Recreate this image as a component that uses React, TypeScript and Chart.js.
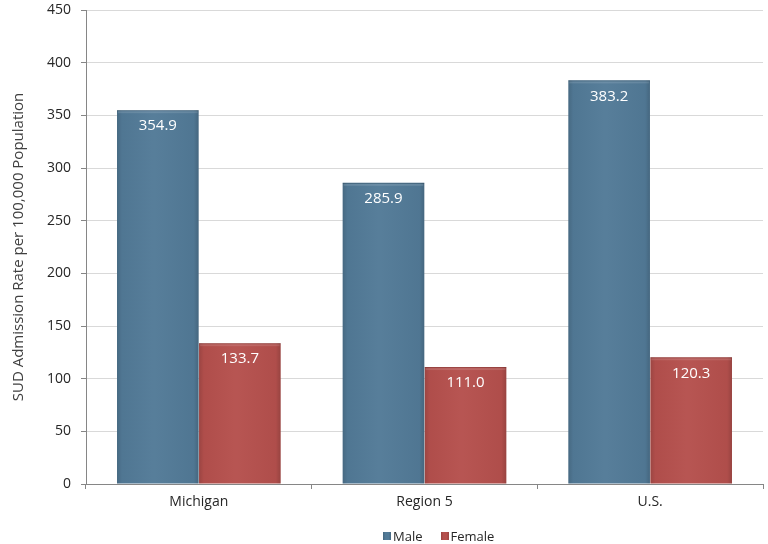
import React, { useEffect, useRef } from "react";
import { Chart, registerables } from "chart.js";

Chart.register(...registerables);

const categories = ["Michigan", "Region 5", "U.S."];
const maleValues = [354.9, 285.9, 383.2];
const femaleValues = [133.7, 111.0, 120.3];
const seriesNames = ["Male", "Female"];
const yTicks = [0, 50, 100, 150, 200, 250, 300, 350, 400, 450];
const yTitle = "SUD Admission Rate per 100,000 Population";

const MALE = "#527a97";
const FEMALE = "#b5504d";
const FONT = "'Open Sans', 'DejaVu Sans', sans-serif";

const barDecor = {
  id: "barDecor",
  afterDatasetsDraw(chart: any) {
    const ctx = chart.ctx;
    chart.data.datasets.forEach((ds: any, di: number) => {
      const meta = chart.getDatasetMeta(di);
      meta.data.forEach((el: any) => {
        const { x, y, base, width } = el.getProps(["x", "y", "base", "width"], true);
        const l = x - width / 2;
        const r = x + width / 2;
        const g = ctx.createLinearGradient(l, 0, r, 0);
        g.addColorStop(0, "rgba(0,0,0,0.14)");
        g.addColorStop(0.06, "rgba(0,0,0,0.03)");
        g.addColorStop(0.45, "rgba(255,255,255,0.03)");
        g.addColorStop(0.94, "rgba(0,0,0,0.03)");
        g.addColorStop(1, "rgba(0,0,0,0.16)");
        ctx.save();
        ctx.fillStyle = g;
        ctx.fillRect(l, y, width, base - y);
        ctx.fillStyle = "rgba(255,255,255,0.12)";
        ctx.fillRect(l + 1, y + 1, width - 2, 2);
        ctx.fillStyle = "rgba(0,0,0,0.15)";
        ctx.fillRect(l, y, width, 1);
        ctx.restore();
      });
    });
    chart.data.datasets.forEach((ds: any, di: number) => {
      const meta = chart.getDatasetMeta(di);
      meta.data.forEach((el: any, i: number) => {
        const { x, y } = el.getProps(["x", "y"], true);
        ctx.save();
        ctx.fillStyle = "#ffffff";
        ctx.font = `15px ${FONT}`;
        ctx.textAlign = "center";
        ctx.textBaseline = "middle";
        ctx.fillText(Number(ds.data[i]).toFixed(1), x, y + 16);
        ctx.restore();
      });
    });
  },
};

export default function App() {
  const ref = useRef<HTMLCanvasElement | null>(null);
  useEffect(() => {
    if (!ref.current) return;
    const chart = new Chart(ref.current, {
      type: "bar",
      data: {
        labels: categories,
        datasets: [
          {
            label: seriesNames[0],
            data: maleValues,
            backgroundColor: MALE,
            borderWidth: 0,
            categoryPercentage: 0.727,
            barPercentage: 0.995,
          },
          {
            label: seriesNames[1],
            data: femaleValues,
            backgroundColor: FEMALE,
            borderWidth: 0,
            categoryPercentage: 0.727,
            barPercentage: 0.995,
          },
        ],
      },
      options: {
        animation: false,
        responsive: false,
        layout: { padding: { top: 10, right: 5, bottom: 21, left: 0 } },
        plugins: {
          legend: { display: false },
          tooltip: { enabled: false },
        },
        scales: {
          x: {
            offset: true,
            grid: {
              display: true,
              drawOnChartArea: false,
              drawTicks: true,
              tickLength: 5,
              offset: true,
              color: "#868686",
            },
            border: { color: "#868686" },
            ticks: {
              color: "#262626",
              font: { family: FONT, size: 14 },
              padding: 5,
            },
            afterFit(scale: any) {
              scale.height = 39;
              scale.paddingLeft = 0;
              scale.paddingRight = 0;
            },
          },
          y: {
            min: 0,
            max: 450,
            afterBuildTicks(scale: any) {
              scale.ticks = yTicks.map((v) => ({ value: v }));
            },
            grid: {
              color: "#d9d9d9",
              tickColor: "#868686",
              tickLength: 5,
            },
            border: { color: "#868686" },
            ticks: {
              color: "#262626",
              font: { family: FONT, size: 14 },
              padding: 10,
            },
            title: {
              display: true,
              text: yTitle,
              color: "#404040",
              font: { family: FONT, size: 15 },
              padding: { top: 10, bottom: 0 },
            },
            afterFit(scale: any) {
              scale.width = 86;
              scale.paddingTop = 0;
              scale.paddingBottom = 0;
            },
          },
        },
      },
      plugins: [barDecor],
    });
    return () => chart.destroy();
  }, []);

  const legendItem = (name: string, color: string, mr: number) => (
    <div style={{ display: "flex", alignItems: "center", marginRight: mr }}>
      <div
        style={{
          width: 8,
          height: 8,
          background: `linear-gradient(to right, rgba(0,0,0,0.15), ${color} 30%, ${color} 70%, rgba(0,0,0,0.15))`,
          backgroundColor: color,
          marginRight: 2,
        }}
      />
      <span>{name}</span>
    </div>
  );

  return (
    <div style={{ position: "absolute", left: 0, top: 0, width: 768, height: 544 }}>
      <canvas ref={ref} width={768} height={544} style={{ display: "block" }} />
      <div
        style={{
          position: "absolute",
          left: 383,
          top: 526,
          height: 20,
          display: "flex",
          alignItems: "center",
          fontFamily: FONT,
          fontSize: 13,
          color: "#262626",
        }}
      >
        {legendItem(seriesNames[0], MALE, 18)}
        {legendItem(seriesNames[1], FEMALE, 0)}
      </div>
    </div>
  );
}
